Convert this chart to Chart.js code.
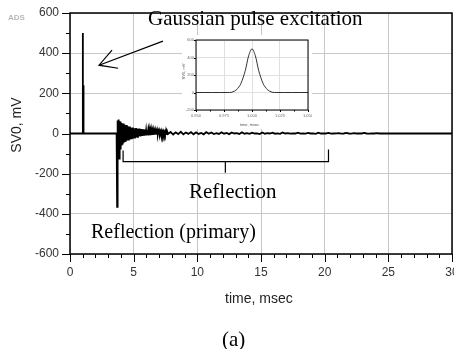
<!DOCTYPE html>
<html>
<head>
<meta charset="utf-8">
<script src="https://cdn.jsdelivr.net/npm/chart.js@4.4.1/dist/chart.umd.min.js"></script>
<style>
  html, body { margin: 0; padding: 0; background: #fff; }
  #wrap { position: relative; width: 454px; height: 349px; overflow: hidden; }
  #mainChart { position: absolute; left: 0; top: 0; }
  #insetBox { position: absolute; left: 182px; top: 35px; width: 130px; height: 94px; background: #fff; }
  #insetChart { position: absolute; left: 0; top: 0; }
  .note { position: absolute; font-family: "Liberation Serif", "Times New Roman", serif; font-size: 21px; color: #000; white-space: nowrap; line-height: normal; }
  .axt { position: absolute; font-family: "Liberation Sans", Arial, sans-serif; color: #222; white-space: nowrap; }
</style>
</head>
<body>
<div id="wrap">
  <canvas id="mainChart" width="454" height="349"></canvas>
  <div class="axt" style="left:8px; top:13px; font-size:8px; font-weight:bold; color:#b8b8b8;">ADS</div>
  <div class="axt" style="left:-24px; top:117px; width:80px; text-align:center; font-size:14px; transform:rotate(-90deg);">SV0, mV</div>
  <div class="axt" style="left:225px; top:290px; font-size:14px;">time, msec</div>
  <div id="insetBox">
    <canvas id="insetChart" width="130" height="88"></canvas>
    <div class="axt" style="left:58px; top:87px; font-size:4px; color:#555;">time, msec</div>
    <div class="axt" style="left:-9px; top:34px; width:20px; text-align:center; font-size:4px; color:#555; transform:rotate(-90deg);">SV0, mV</div>
  </div>
  <div class="note" style="left:148px; top:6px;">Gaussian pulse excitation</div>
  <div class="note" style="left:189px; top:179px;">Reflection</div>
  <div class="note" style="left:91px; top:220px; font-size:20px;">Reflection (primary)</div>
  <div class="note" style="left:222px; top:327px;">(a)</div>
</div>
<script>
// excitation pulse (time ms, mV)
const pulseT = [0, 0.98, 1.0, 1.02, 1.03, 1.05, 1.06, 1.08, 3.66];
const pulseV = [0, 0, 500, 0, 240, 0, 235, 0, 0];

// ringing after the reflection, sampled every ringDtA ms from ringStartA
const ringStartA = 3.70;
const ringDtA = 0.04;
const ringA = [-365, 65, -40, 70, -125, 62, -75, 58, -55, 52,
  -50, 48, -42, 50, -38, 44, -36, 40, -30, 42,
  -28, 36, -30, 34, -25, 35, -22, 30, -24, 28,
  -20, 30, -18, 26, -20, 25, -16, 27, -15, 24,
  -17, 22, -14, 25, -13, 21, -15, 22, -12, 20,
  -12, 21, -10, 17, -11, 19, -8, 15, -10, 17,
  -7, 14, -9, 16, -6, 12, -8, 15, -6, 11,
  -7, 13, -5, 10, -6, 12, -4, 9, -6, 11,
  -4, 8, -5, 10, -3, 7, -5, 9, -3, 7,
  -4, 8, -2, 6, -4, 7, -2, 6, -3, 5, -2];

// slower tail of the ringing
const ringStartB = 7.90;
const ringDtB = 0.2;
const ringB = [8, -5, 6, -3, 9, -4, 5, -2, 7, -4,
  6, -2, 3, -4, 7, -1, 5, -3, 2, -2,
  6, -1, 3, -3, 5, 0, 2, -2, 6, -1,
  2, -2, 4, 0, 1, -3, 5, -1, 2, 0,
  4, -1, 1, -2, 5, 0, 2, -1, 1, 0,
  4, -1, 0, -1, 3, 0, 1, -2, 4, 0,
  1, 0, 3, -1, 0, 1, 2, -1, 0, 3,
  0, -1, 2, 0, 1, 0, 3, 0, -1, 1,
  0, 2, 0, 0, 1, 0, 0];

const tailT = [25.3, 30];
const tailV = [0, 0];

// inset: zoom of the gaussian pulse
const insetT = [0.950, 0.978, 0.982, 0.986, 0.990, 0.994, 0.997, 1.000, 1.003, 1.006, 1.010, 1.014, 1.018, 1.022, 1.050];
const insetV = [0, 0, 3, 30, 100, 250, 420, 500, 420, 250, 100, 30, 3, 0, 0];
const insetXTicks = [0.95, 0.975, 1.0, 1.025, 1.05];
const insetYTicks = [-200, 0, 200, 400, 600];

// armar los puntos de la curva principal
let mainPts = [];
for (let i = 0; i < pulseT.length; i++) mainPts.push({x: pulseT[i], y: pulseV[i]});
for (let i = 0; i < ringA.length; i++) mainPts.push({x: ringStartA + i * ringDtA, y: ringA[i]});
for (let i = 0; i < ringB.length; i++) mainPts.push({x: ringStartB + i * ringDtB, y: ringB[i]});
for (let i = 0; i < tailT.length; i++) mainPts.push({x: tailT[i], y: tailV[i]});

let insetPts = [];
for (let i = 0; i < insetT.length; i++) insetPts.push({x: insetT[i], y: insetV[i]});

// marco negro y marcas de eje hacia afuera
const frameTicks = {
  id: 'frameTicks',
  afterDraw(chart, args, opts) {
    const c = chart.ctx, a = chart.chartArea;
    const xs = chart.scales.x, ys = chart.scales.y;
    c.save();
    c.strokeStyle = '#000';
    c.lineWidth = opts.frameWidth;
    c.strokeRect(a.left, a.top, a.right - a.left, a.bottom - a.top);
    c.lineWidth = 1;
    c.beginPath();
    for (const v of opts.xMinor) {
      const p = Math.round(xs.getPixelForValue(v)) + 0.5;
      const len = opts.xMajor.includes(v) ? opts.majorLen : opts.minorLen;
      c.moveTo(p, a.bottom); c.lineTo(p, a.bottom + len);
    }
    for (const v of opts.yMinor) {
      const p = Math.round(ys.getPixelForValue(v)) + 0.5;
      const len = opts.yMajor.includes(v) ? opts.majorLen : opts.minorLen;
      c.moveTo(a.left, p); c.lineTo(a.left - len, p);
    }
    c.stroke();
    c.restore();
  }
};

// flecha y llave de anotacion, en coordenadas de datos
const arrowT = [7.3, 2.28, 3.3, 2.28, 3.78];
const arrowV = [460, 340, 415, 340, 325];
const braceT = [4.17, 4.17, 12.2, 12.2, 12.2, 20.3, 20.3];
const braceV = [-85, -140, -140, -195, -140, -140, -80];

const notes = {
  id: 'notes',
  afterDraw(chart) {
    const c = chart.ctx, xs = chart.scales.x, ys = chart.scales.y;
    c.save();
    c.strokeStyle = '#000';
    c.lineWidth = 1.2;
    c.beginPath();
    c.moveTo(xs.getPixelForValue(arrowT[0]), ys.getPixelForValue(arrowV[0]));
    c.lineTo(xs.getPixelForValue(arrowT[1]), ys.getPixelForValue(arrowV[1]));
    c.moveTo(xs.getPixelForValue(arrowT[2]), ys.getPixelForValue(arrowV[2]));
    c.lineTo(xs.getPixelForValue(arrowT[3]), ys.getPixelForValue(arrowV[3]));
    c.lineTo(xs.getPixelForValue(arrowT[4]), ys.getPixelForValue(arrowV[4]));
    c.stroke();
    c.beginPath();
    c.moveTo(xs.getPixelForValue(braceT[0]), ys.getPixelForValue(braceV[0]));
    c.lineTo(xs.getPixelForValue(braceT[1]), ys.getPixelForValue(braceV[1]));
    c.lineTo(xs.getPixelForValue(braceT[2]), ys.getPixelForValue(braceV[2]));
    c.lineTo(xs.getPixelForValue(braceT[3]), ys.getPixelForValue(braceV[3]));
    c.moveTo(xs.getPixelForValue(braceT[4]), ys.getPixelForValue(braceV[4]));
    c.lineTo(xs.getPixelForValue(braceT[5]), ys.getPixelForValue(braceV[5]));
    c.lineTo(xs.getPixelForValue(braceT[6]), ys.getPixelForValue(braceV[6]));
    c.stroke();
    c.restore();
  }
};

const xMinorMain = [];
for (let v = 0; v <= 30; v++) xMinorMain.push(v);
const yMinorMain = [];
for (let v = -600; v <= 600; v += 100) yMinorMain.push(v);

const grafica = new Chart(document.getElementById('mainChart'), {
  type: 'scatter',
  data: {
    datasets: [{
      data: mainPts,
      showLine: true,
      borderColor: '#000',
      borderWidth: 1.8,
      pointRadius: 0,
      tension: 0
    }]
  },
  options: {
    responsive: false,
    animation: false,
    layout: { padding: { top: 13, right: 2, left: 0, bottom: 0 } },
    plugins: {
      legend: { display: false },
      tooltip: { enabled: false },
      frameTicks: {
        frameWidth: 1.5, majorLen: 8, minorLen: 4,
        xMinor: xMinorMain, xMajor: [0, 5, 10, 15, 20, 25, 30],
        yMinor: yMinorMain, yMajor: [-600, -400, -200, 0, 200, 400, 600]
      }
    },
    scales: {
      x: {
        type: 'linear', min: 0, max: 30,
        ticks: { stepSize: 5, padding: 11, color: '#333', maxRotation: 0,
          font: { family: 'Liberation Sans', size: 12 } },
        grid: { color: '#c8c8c8', drawTicks: false },
        border: { display: false },
        afterFit(s) { s.height = 95; s.paddingLeft = 0; s.paddingRight = 0; }
      },
      y: {
        min: -600, max: 600,
        ticks: { stepSize: 200, padding: 11, color: '#333',
          font: { family: 'Liberation Sans', size: 12 } },
        grid: { color: '#c8c8c8', drawTicks: false },
        border: { display: false },
        afterFit(s) { s.width = 70; s.paddingTop = 0; s.paddingBottom = 0; }
      }
    }
  },
  plugins: [frameTicks, notes]
});

const xMinorInset = [0.95, 0.9625, 0.975, 0.9875, 1.0, 1.0125, 1.025, 1.0375, 1.05];

const graficaInset = new Chart(document.getElementById('insetChart'), {
  type: 'scatter',
  data: {
    datasets: [{
      data: insetPts,
      showLine: true,
      borderColor: '#000',
      borderWidth: 0.8,
      pointRadius: 0,
      tension: 0.3
    }]
  },
  options: {
    responsive: false,
    animation: false,
    layout: { padding: { top: 5, right: 4, left: 0, bottom: 0 } },
    plugins: {
      legend: { display: false },
      tooltip: { enabled: false },
      frameTicks: {
        frameWidth: 1, majorLen: 2, minorLen: 1.5,
        xMinor: xMinorInset, xMajor: insetXTicks,
        yMinor: insetYTicks, yMajor: insetYTicks
      }
    },
    scales: {
      x: {
        type: 'linear', min: 0.95, max: 1.05,
        afterBuildTicks(s) { s.ticks = insetXTicks.map(v => ({value: v})); },
        ticks: { padding: 3, color: '#666', maxRotation: 0, autoSkip: false,
          font: { family: 'Liberation Sans', size: 4 },
          callback: v => v.toFixed(3) },
        grid: { color: '#e0e0e0', drawTicks: false },
        border: { display: false },
        afterFit(s) { s.height = 13; s.paddingLeft = 0; s.paddingRight = 0; }
      },
      y: {
        min: -200, max: 600,
        afterBuildTicks(s) { s.ticks = insetYTicks.map(v => ({value: v})); },
        ticks: { padding: 2, color: '#666', autoSkip: false,
          font: { family: 'Liberation Sans', size: 4 } },
        grid: { color: '#e0e0e0', drawTicks: false },
        border: { display: false },
        afterFit(s) { s.width = 14; s.paddingTop = 0; s.paddingBottom = 0; }
      }
    }
  },
  plugins: [frameTicks]
});
</script>
</body>
</html>
